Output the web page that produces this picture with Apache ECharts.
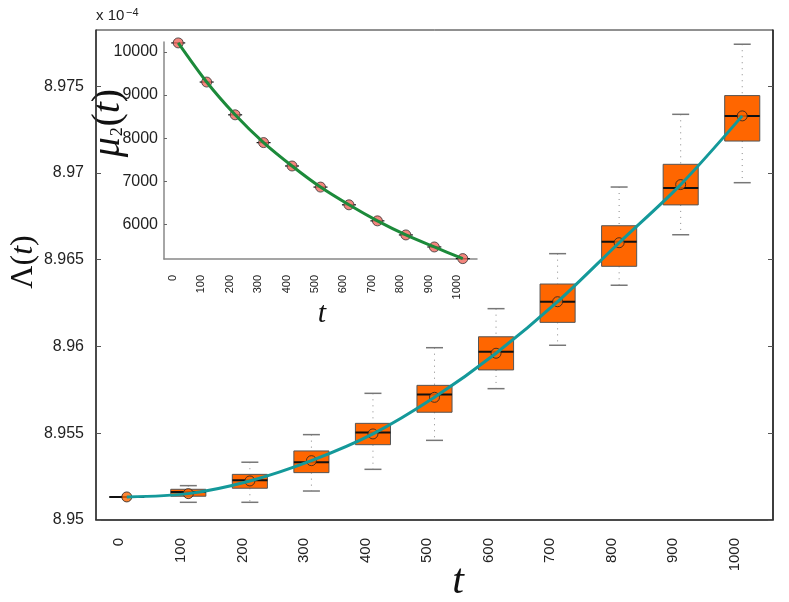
<!DOCTYPE html>
<html>
<head>
<meta charset="utf-8">
<script src="https://cdn.jsdelivr.net/npm/echarts@6/dist/echarts.min.js"></script>
<style>
  html, body { margin: 0; padding: 0; background: #fff; }
  #chart { width: 789px; height: 602px; }
</style>
</head>
<body>
<div id="chart"></div>
<script>
// categories (t)
const tLabels = ['0', '100', '200', '300', '400', '500', '600', '700', '800', '900', '1000'];

// main plot: Lambda(t) box statistics
const boxMin = [8.95133, 8.95102, 8.95102, 8.95167, 8.95292, 8.95459, 8.95757, 8.96007, 8.96353, 8.96644, 8.96944];
const boxQ1  = [8.95133, 8.95137, 8.95183, 8.95273, 8.95434, 8.95621, 8.95865, 8.96139, 8.96462, 8.96816, 8.97184];
const boxMed = [8.95133, 8.95161, 8.95229, 8.95333, 8.95505, 8.95724, 8.95970, 8.96258, 8.96604, 8.96914, 8.97329];
const boxQ3  = [8.95133, 8.95177, 8.95263, 8.95398, 8.95557, 8.95776, 8.96056, 8.96360, 8.96696, 8.97050, 8.97446];
const boxMax = [8.95133, 8.95198, 8.95333, 8.95492, 8.95730, 8.95993, 8.96218, 8.96535, 8.96919, 8.97338, 8.97742];
const lambdaMean = [8.95133, 8.95152, 8.95225, 8.95342, 8.95496, 8.95707, 8.95961, 8.96258, 8.96598, 8.96933, 8.97329];
const lambdaTicks = [8.95, 8.955, 8.96, 8.965, 8.97, 8.975];

// inset: mu_2(t)
const mu2Values = [10209, 9302, 8542, 7898, 7356, 6867, 6456, 6084, 5758, 5479, 5209];
const mu2Ticks = [6000, 7000, 8000, 9000, 10000];

const boxData = tLabels.map((_, i) => [i, boxMin[i], boxQ1[i], boxMed[i], boxQ3[i], boxMax[i]]);

function renderBox(params, api) {
  const i = api.value(0);
  const pMin = api.coord([i, api.value(1)]);
  const pQ1 = api.coord([i, api.value(2)]);
  const pMed = api.coord([i, api.value(3)]);
  const pQ3 = api.coord([i, api.value(4)]);
  const pMax = api.coord([i, api.value(5)]);
  const w = api.size([1, 0])[0] * 0.57;
  const cap = 17;
  const cx = pMed[0];
  const kids = [];
  const whisker = { stroke: '#888', lineWidth: 1, lineDash: [1, 5] };
  const capStyle = { stroke: '#777', lineWidth: 1.5 };
  if (pMax[1] < pQ3[1] - 0.5) {
    kids.push({ type: 'line', shape: { x1: cx, y1: pMax[1], x2: cx, y2: pQ3[1] }, style: whisker });
    kids.push({ type: 'line', shape: { x1: cx - cap / 2, y1: pMax[1], x2: cx + cap / 2, y2: pMax[1] }, style: capStyle });
  }
  if (pMin[1] > pQ1[1] + 0.5) {
    kids.push({ type: 'line', shape: { x1: cx, y1: pQ1[1], x2: cx, y2: pMin[1] }, style: whisker });
    kids.push({ type: 'line', shape: { x1: cx - cap / 2, y1: pMin[1], x2: cx + cap / 2, y2: pMin[1] }, style: capStyle });
  }
  if (pQ1[1] - pQ3[1] > 0.5) {
    kids.push({ type: 'rect', shape: { x: cx - w / 2, y: pQ3[1], width: w, height: pQ1[1] - pQ3[1] },
      style: { fill: '#FF6600', stroke: '#555', lineWidth: 1 } });
  }
  kids.push({ type: 'line', shape: { x1: cx - w / 2, y1: pMed[1], x2: cx + w / 2, y2: pMed[1] },
    style: { stroke: '#111', lineWidth: 2 } });
  return { type: 'group', children: kids };
}

function renderDash(params, api) {
  const p = api.coord([api.value(0), api.value(1)]);
  return { type: 'line', shape: { x1: p[0] - 7, y1: p[1], x2: p[0] + 7, y2: p[1] },
    style: { stroke: '#111', lineWidth: 1.2 } };
}

const chart = echarts.init(document.getElementById('chart'));
chart.setOption({
  animation: false,
  backgroundColor: '#fff',
  grid: [
    { left: 96, right: 16, top: 30, bottom: 82, show: true, borderColor: '#222', borderWidth: 1 },
    { left: 164, right: 312, top: 42, bottom: 343 }
  ],
  xAxis: [
    {
      type: 'category', gridIndex: 0, data: tLabels, boundaryGap: true,
      axisLine: { lineStyle: { color: '#333', width: 1.5 } },
      axisTick: { show: false },
      axisLabel: { rotate: 90, fontSize: 15, color: '#222', margin: 18, verticalAlign: 'bottom',
        fontFamily: 'Liberation Sans', interval: 0 }
    },
    {
      type: 'category', gridIndex: 1, data: tLabels, boundaryGap: true,
      axisLine: { lineStyle: { color: '#888', width: 1.5 } },
      axisTick: { show: false },
      axisLabel: { rotate: 90, fontSize: 11, color: '#222', margin: 16, verticalAlign: 'bottom',
        fontFamily: 'Liberation Sans', interval: 0 }
    }
  ],
  yAxis: [
    {
      type: 'value', gridIndex: 0, min: 8.95, max: 8.97824, splitLine: { show: false },
      axisLine: { show: true, lineStyle: { color: '#333', width: 1.5 } },
      axisTick: { show: true, inside: true, length: 5, customValues: lambdaTicks, lineStyle: { color: '#555' } },
      axisLabel: { customValues: lambdaTicks, fontSize: 16, color: '#222', margin: 12,
        fontFamily: 'Liberation Sans', formatter: v => String(+(+v).toFixed(3)) }
    },
    {
      type: 'value', gridIndex: 0, position: 'right', min: 8.95, max: 8.97824, splitLine: { show: false },
      axisLine: { show: true, lineStyle: { color: '#222', width: 1.5 } },
      axisTick: { show: true, inside: true, length: 5, customValues: lambdaTicks, lineStyle: { color: '#555' } },
      axisLabel: { show: false }
    },
    {
      type: 'value', gridIndex: 1, min: 5200, max: 10230, splitLine: { show: false },
      axisLine: { show: true, lineStyle: { color: '#888', width: 1.5 } },
      axisTick: { show: true, inside: true, length: 3, customValues: mu2Ticks, lineStyle: { color: '#666' } },
      axisLabel: { customValues: mu2Ticks, fontSize: 16, color: '#222', margin: 6, fontFamily: 'Liberation Sans',
        formatter: v => String(Math.round(v)) }
    }
  ],
  series: [
    {
      type: 'custom', xAxisIndex: 0, yAxisIndex: 0, data: boxData, renderItem: renderBox, z: 2,
      encode: { x: 0, y: [1, 2, 3, 4, 5] }
    },
    {
      type: 'scatter', xAxisIndex: 0, yAxisIndex: 0, data: lambdaMean, symbolSize: 10, z: 3,
      itemStyle: { color: '#FF6600', borderColor: '#222', borderWidth: 1 }
    },
    {
      type: 'line', xAxisIndex: 0, yAxisIndex: 0, data: lambdaMean, smooth: 0.3, showSymbol: false, z: 4,
      lineStyle: { color: '#14999A', width: 3 }
    },
    {
      type: 'custom', xAxisIndex: 1, yAxisIndex: 2, data: mu2Values.map((v, i) => [i, v]),
      renderItem: renderDash, z: 2, encode: { x: 0, y: 1 }
    },
    {
      type: 'scatter', xAxisIndex: 1, yAxisIndex: 2, data: mu2Values, symbolSize: 10, z: 3,
      itemStyle: { color: '#F0665C', borderColor: '#333', borderWidth: 1 }
    },
    {
      type: 'line', xAxisIndex: 1, yAxisIndex: 2, data: mu2Values, smooth: 0.3, showSymbol: false, z: 4,
      lineStyle: { color: '#1C8A3A', width: 3 }
    }
  ],
  graphic: [
    { type: 'text', x: 96, y: 23, style: { text: 'x 10', fontSize: 15, fill: '#222',
      fontFamily: 'Liberation Sans', verticalAlign: 'bottom' } },
    { type: 'text', x: 126, y: 18, style: { text: '\u22124', fontSize: 11, fill: '#222',
      fontFamily: 'Liberation Sans', verticalAlign: 'bottom' } },
    { type: 'text', x: 24, y: 262, rotation: Math.PI / 2, style: {
      text: '{n|Λ(}{i|t}{n|)}', align: 'center', verticalAlign: 'middle',
      rich: {
        n: { fontSize: 32, fontFamily: 'Liberation Serif', fill: '#111' },
        i: { fontSize: 32, fontFamily: 'Liberation Serif', fontStyle: 'italic', fill: '#111' }
      } } },
    { type: 'text', x: 108, y: 123, rotation: Math.PI / 2, style: {
      text: '{i|μ}{s|₂}{n|(}{i|t}{n|)}', align: 'center', verticalAlign: 'middle',
      rich: {
        n: { fontSize: 40, fontFamily: 'Liberation Serif', fill: '#111' },
        s: { fontSize: 30, fontFamily: 'Liberation Serif', fill: '#111' },
        i: { fontSize: 40, fontFamily: 'Liberation Serif', fontStyle: 'italic', fill: '#111' }
      } } },
    { type: 'text', x: 322, y: 314, style: { text: 't', fontSize: 30, fontStyle: 'italic',
      fontFamily: 'Liberation Serif', fill: '#111', align: 'center', verticalAlign: 'middle' } },
    { type: 'text', x: 458, y: 582, style: { text: 't', fontSize: 42, fontStyle: 'italic',
      fontFamily: 'Liberation Serif', fill: '#111', align: 'center', verticalAlign: 'middle' } }
  ]
});
</script>
</body>
</html>
